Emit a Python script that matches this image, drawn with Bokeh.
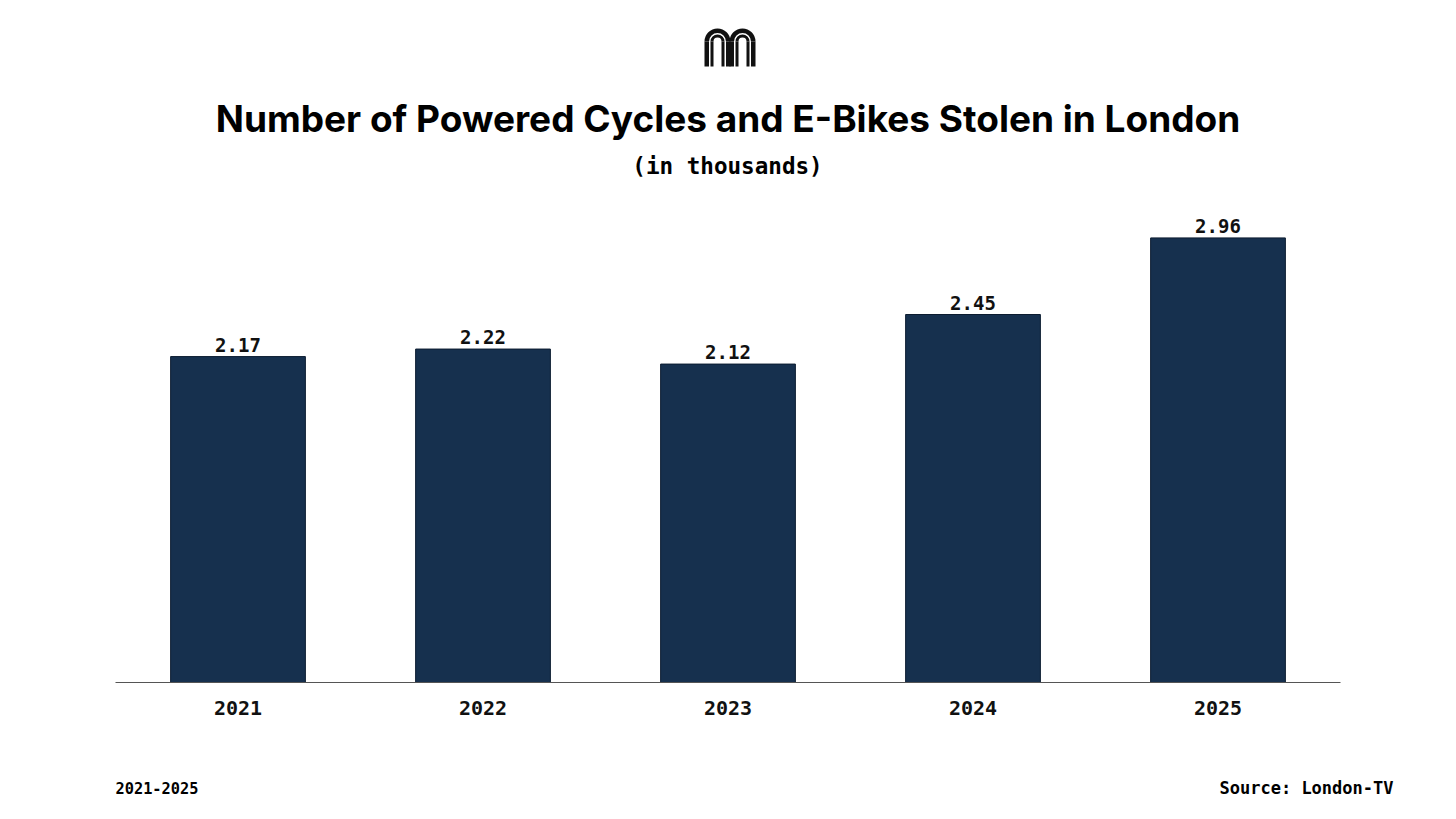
import math
from bokeh.plotting import figure
from bokeh.models import (ColumnDataSource, LabelSet, Label, Range1d, FactorRange,
                          CategoricalAxis)
from bokeh.core.properties import value
from bokeh.transform import dodge
from bokeh.embed import file_html
from bokeh.resources import INLINE

# ---- data ----
years = ["2021", "2022", "2023", "2024", "2025"]
stolen_thousands = [2.17, 2.22, 2.12, 2.45, 2.96]
value_labels = ["2.17", "2.22", "2.12", "2.45", "2.96"]

title_text = "Number of Powered Cycles and E-Bikes Stolen in London"
subtitle_text = "(in thousands)"
footer_left = "2021-2025"
footer_right = "Source: London-TV"

MONO = "DejaVu Sans Mono"
SANS = "Inter"
BAR = "#16304e"
INK = "#111111"

W, H = 1455, 810
BASE = 682           # pixel row of the baseline (y = 0)
PX_PER_UNIT = 150.2
CAT_PX = 245.0
pad = 115 / CAT_PX   # padding (in categories) on each side

p = figure(
    width=W, height=H,
    x_range=FactorRange(*years, range_padding=pad, range_padding_units="absolute"),
    y_range=Range1d(-(H - BASE) / PX_PER_UNIT, BASE / PX_PER_UNIT),
    x_axis_location=None, y_axis_location=None,
    output_backend="svg", toolbar_location=None,
    min_border=0, min_border_left=0, min_border_right=0,
    min_border_top=0, min_border_bottom=0,
)
p.outline_line_color = None
p.background_fill_color = "white"
p.border_fill_color = "white"
p.grid.visible = False

src = ColumnDataSource(dict(year=years, val=stolen_thousands, lab=value_labels))
p.vbar(x="year", top="val", width=0.55, source=src, fill_color=BAR,
       line_color="#0c1c30", line_width=1)

p.add_layout(LabelSet(x="year", y="val", text="lab", source=src, y_offset=5,
                      text_align="center", text_baseline="bottom",
                      text_font=value(MONO), text_font_style="bold",
                      text_font_size="19px", text_color=INK))

ax = CategoricalAxis(fixed_location=0, bounds=(0, len(years)))
ax.axis_line_color = "#555555"
ax.axis_line_width = 1.2
ax.major_tick_line_color = None
ax.minor_tick_line_color = None
ax.major_label_text_font = MONO
ax.major_label_text_font_style = "bold"
ax.major_label_text_font_size = "20px"
ax.major_label_text_color = INK
ax.major_label_standoff = 12
p.add_layout(ax, "below")

# ---- logo (decorative) ----
def ypix(py):
    return (BASE - py) / PX_PER_UNIT

for off in (-12.5, 12.5):
    for r, lw in ((10.75, 4.5), (5.5, 3)):
        xo = (off + 2) / CAT_PX
        p.arc(x=dodge("c", xo, range=p.x_range), y="y", radius=r, radius_units="screen",
              start_angle=0, end_angle=math.pi, line_width=lw, line_color=INK,
              source=ColumnDataSource(dict(c=["2023"], y=[ypix(41)])))
        for side in (-r, r):
            xs = (off + 2 + side) / CAT_PX
            p.segment(x0=dodge("c", xs, range=p.x_range), x1=dodge("c", xs, range=p.x_range),
                      y0="y0", y1="y1", line_width=lw, line_color=INK,
                      source=ColumnDataSource(dict(c=["2023"], y0=[ypix(41)], y1=[ypix(66)])))

# ---- titles & footer (screen units, frame = whole canvas) ----
def lab(x, py, text, align, font, size):
    p.add_layout(Label(x=x, y=H - py, x_units="screen", y_units="screen",
                       text=text, text_align=align, text_baseline="middle",
                       text_font=font, text_font_style="bold", text_font_size=size,
                       text_color="#000000"))

lab(W / 2, 118, title_text, "center", SANS, "37px")
lab(W / 2 - 0.5, 165, subtitle_text, "center", MONO, "22.6px")
lab(115, 787, footer_left, "left", MONO, "15.3px")
lab(1393, 787, footer_right, "right", MONO, "17px")

open("out.html", "w").write(file_html(p, INLINE))
